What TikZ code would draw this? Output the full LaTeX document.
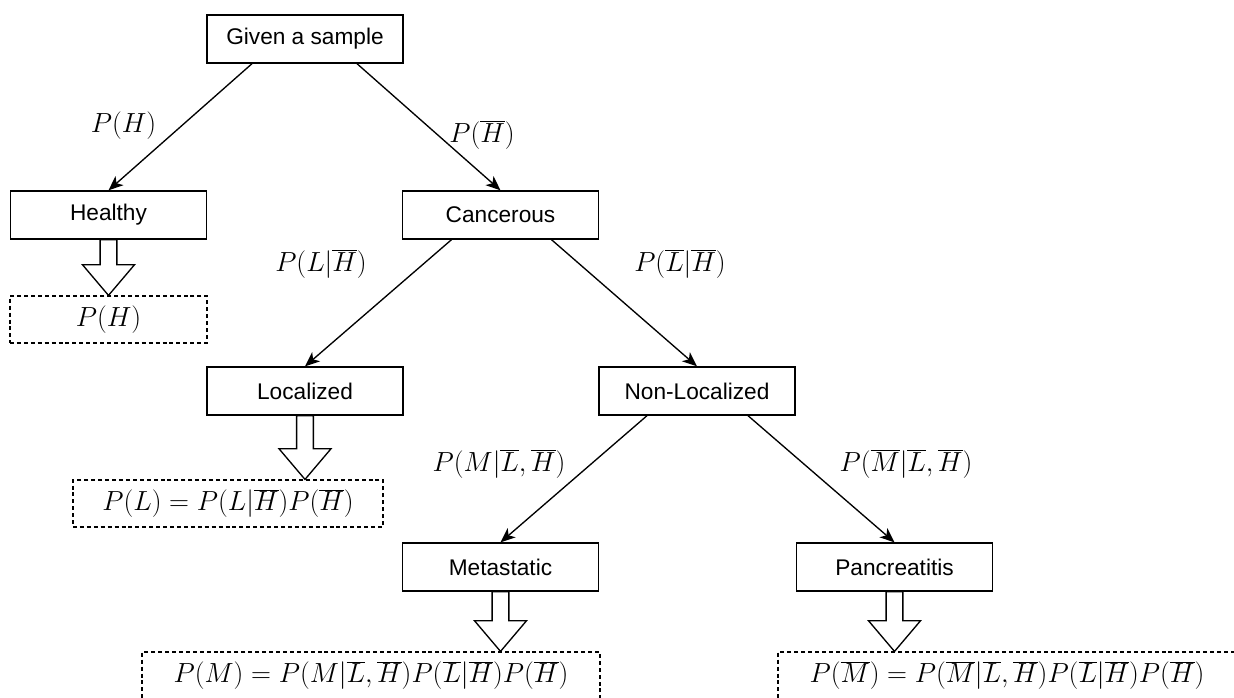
\documentclass[tikz,border=0pt]{standalone}
\usepackage{fontspec}
\setsansfont{Liberation Sans}
\usetikzlibrary{arrows.meta,calc}
\newcommand\blockarr[2]{%
  \draw[barrow] let \p1=(#1.south), \p2=(#1.south |- #2.north) in
    (\x1-6.3pt,\y1) -- (\x1+6.3pt,\y1) -- (\x1+6.3pt,\y2+23pt) -- (\x1+19.5pt,\y2+23pt)
    -- (\x2,\y2) -- (\x1-19.5pt,\y2+23pt) -- (\x1-6.3pt,\y2+23pt) -- cycle;}
\begin{document}
\begin{tikzpicture}[x=0.75pt,y=-0.75pt,
  box/.style={draw, line width=1pt, minimum width=147pt, minimum height=36pt, inner sep=0pt,
    font=\sffamily\fontsize{17}{20}\selectfont},
  res/.style={draw, line width=0.9pt, dash pattern=on 3pt off 2.2pt, minimum height=35.25pt,
    inner sep=0pt, font=\fontsize{20.6}{24}\selectfont},
  edge/.style={line width=1pt, -{Stealth[length=11pt,width=9pt,inset=3pt]}},
  lab/.style={font=\fontsize{20.6}{24}\selectfont, inner sep=0pt},
  barrow/.style={draw, line width=1pt, fill=white, line join=miter}]
\useasboundingbox (0,0) rectangle (1234,697);

\node[box] (g) at (305,39) {Given a sample};
\node[box] (h) at (108.5,215) {Healthy};
\node[box] (c) at (500.5,215) {Cancerous};
\node[box] (l) at (305,391) {Localized};
\node[box] (n) at (697,391) {Non-Localized};
\node[box] (m) at (500.5,567) {Metastatic};
\node[box] (p) at (894.5,567) {Pancreatitis};

\node[res, minimum width=147.75pt] (hr) at (108.5,319.5) {$P(H)$};
\node[res, minimum width=232.5pt] (lr) at (228,503.5) {$P(L) = P(L|\overline{H})P(\overline{H})$};
\node[res, minimum width=343.5pt] (mr) at (371,675.5)
  {$P(M) = P(M|\overline{L},\overline{H})P(\overline{L}|\overline{H})P(\overline{H})$};
\node[res, minimum width=343.5pt] (pr) at (1007,675.5)
  {$P(\overline{M}) = P(\overline{M}|\overline{L},\overline{H})P(\overline{L}|\overline{H})P(\overline{H})$};

\draw[edge] ($(g.south)+(-53,0)$) -- (h.north);
\draw[edge] ($(g.south)+(52,0)$) -- (c.north);
\draw[edge] ($(c.south)+(-49,0)$) -- (l.north);
\draw[edge] ($(c.south)+(51,0)$) -- (n.north);
\draw[edge] ($(n.south)+(-50,0)$) -- (m.north);
\draw[edge] ($(n.south)+(51,0)$) -- (p.north);

\node[lab] (l1) at (123.5,126) {$P(H)$};
\node[lab] (l2) at (482,135) {$P(\overline{H})$};
\node[lab] (l3) at (321,264) {$P(L|\overline{H})$};
\node[lab] (l4) at (680,264) {$P(\overline{L}|\overline{H})$};
\node[lab] (l5) at (499,464) {$P(M|\overline{L},\overline{H})$};
\node[lab] (l6) at (906,464) {$P(\overline{M}|\overline{L},\overline{H})$};

\blockarr{h}{hr}
\blockarr{l}{lr}
\blockarr{m}{mr}
\blockarr{p}{pr}
\end{tikzpicture}
\end{document}
